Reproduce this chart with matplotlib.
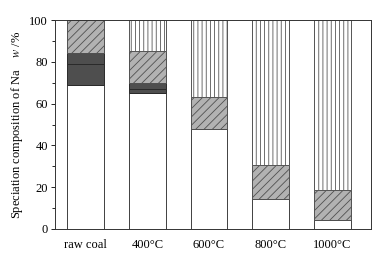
import matplotlib
matplotlib.use("Agg")
import matplotlib.pyplot as plt
import numpy as np

# Données (en %)
categories = ["raw coal", "400\u00b0C", "600\u00b0C", "800\u00b0C", "1000\u00b0C"]
part_blanc = [69, 65, 48, 14.5, 4.3]      # bas, blanc
part_fonce1 = [10, 2, 0, 0, 0]            # gris foncé (bas)
part_fonce2 = [5, 3, 0, 0, 0]             # gris foncé (haut)
part_hachure = [16, 15, 15, 16, 14.2]     # gris clair hachuré
part_vertical = [0, 15, 37, 69.5, 81.5]   # traits verticaux

plt.rcParams["font.family"] = ["Liberation Serif", "DejaVu Serif"]
plt.rcParams["mathtext.fontset"] = "stix"
plt.rcParams["font.size"] = 9
plt.rcParams["hatch.linewidth"] = 0.6

fig = plt.figure(figsize=(3.77, 2.64), dpi=100)
ax = fig.add_axes([0.146, 0.1326, 0.838, 0.7914])

x = np.arange(len(categories))
w = 0.6
bas = np.zeros(len(categories))

ax.bar(x, part_blanc, w, bottom=bas, color="white", edgecolor="#404040", linewidth=0.7)
bas += part_blanc
ax.bar(x, part_fonce1, w, bottom=bas, color="#4e4e4e", edgecolor="#2a2a2a", linewidth=0.7)
bas += part_fonce1
ax.bar(x, part_fonce2, w, bottom=bas, color="#4e4e4e", edgecolor="#2a2a2a", linewidth=0.7)
bas += part_fonce2
ax.bar(x, part_hachure, w, bottom=bas, color="#b2b2b2", edgecolor="#505050",
       linewidth=0.7, hatch="////")
bas += part_hachure
ax.bar(x, part_vertical, w, bottom=bas, color="white", edgecolor="#555555",
       linewidth=0.7, hatch="||||")

# Mise en forme
ax.set_xlim(-0.5, 4.63)
ax.set_ylim(0, 100)
ax.set_yticks(range(0, 101, 20))
ax.set_yticks(range(10, 100, 20), minor=True)
ax.set_xticks(x)
ax.set_xticklabels(categories)
ax.tick_params(axis="x", length=0, pad=7)
ax.tick_params(axis="y", which="major", direction="out", length=3, width=0.6, pad=2)
ax.tick_params(axis="y", which="minor", direction="out", length=2, width=0.6)
for s in ax.spines.values():
    s.set_linewidth(0.7)
    s.set_color("#333333")
ax.set_ylabel("Speciation composition of Na    $w$ /%", labelpad=3)

fig.savefig("out.png", dpi=100)
